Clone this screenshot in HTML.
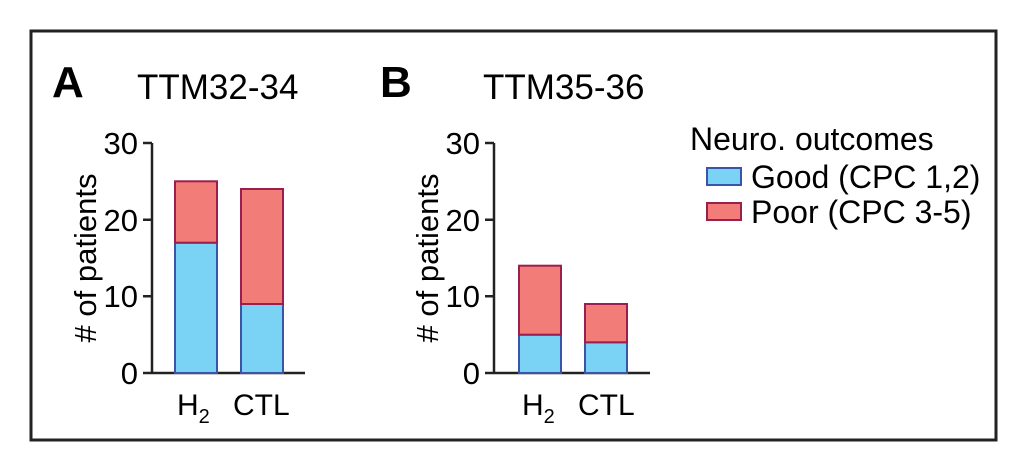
<!DOCTYPE html>
<html><head><style>body{margin:0;background:#fff}</style></head><body>
<svg width="1009" height="463" xmlns="http://www.w3.org/2000/svg" font-family="Liberation Sans, Arial, sans-serif">
<rect x="31" y="31" width="965" height="409" fill="none" stroke="#222" stroke-width="3"/>
<text x="52" y="97" font-size="44" font-weight="bold">A</text>
<text x="137" y="99" font-size="35">TTM32-34</text>
<text x="380" y="97" font-size="44" font-weight="bold">B</text>
<text x="483" y="99" font-size="35">TTM35-36</text>
<g stroke="#222" stroke-width="2.5" fill="none">
<path d="M152,143 V373 H305 M143,143 H152 M143,219.7 H152 M143,296.3 H152 M143,373 H152"/>
<path d="M494,143 V373 H650 M485,143 H494 M485,219.7 H494 M485,296.3 H494 M485,373 H494"/>
</g>
<g font-size="31" text-anchor="end">
<text x="138" y="154">30</text><text x="138" y="231">20</text><text x="138" y="307">10</text><text x="138" y="384">0</text>
<text x="480" y="154">30</text><text x="480" y="231">20</text><text x="480" y="307">10</text><text x="480" y="384">0</text>
</g>
<text transform="translate(96,258) rotate(-90)" font-size="31" text-anchor="middle"># of patients</text>
<text transform="translate(438,258) rotate(-90)" font-size="31" text-anchor="middle"># of patients</text>
<g stroke-width="2">
<rect x="175" y="242.7" width="42" height="130.3" fill="#7ad2f5" stroke="#3a55a8"/>
<rect x="175" y="181.3" width="42" height="61.4" fill="#f27d78" stroke="#9a1f4e"/>
<rect x="241" y="304" width="42" height="69" fill="#7ad2f5" stroke="#3a55a8"/>
<rect x="241" y="189" width="42" height="115" fill="#f27d78" stroke="#9a1f4e"/>
<rect x="519" y="334.7" width="42" height="38.3" fill="#7ad2f5" stroke="#3a55a8"/>
<rect x="519" y="265.7" width="42" height="69" fill="#f27d78" stroke="#9a1f4e"/>
<rect x="585" y="342.3" width="42" height="30.7" fill="#7ad2f5" stroke="#3a55a8"/>
<rect x="585" y="304" width="42" height="38.3" fill="#f27d78" stroke="#9a1f4e"/>
</g>
<g font-size="30">
<text x="177" y="415">H<tspan font-size="20" dy="8">2</tspan></text>
<text x="233" y="415">CTL</text>
<text x="522" y="415">H<tspan font-size="20" dy="8">2</tspan></text>
<text x="578" y="415">CTL</text>
</g>
<g font-size="32">
<text x="690" y="150">Neuro. outcomes</text>
<text x="751" y="188">Good (CPC 1,2)</text>
<text x="751" y="223">Poor  (CPC 3-5)</text>
</g>
<rect x="707" y="168" width="34" height="17" fill="#7ad2f5" stroke="#3a55a8" stroke-width="2"/>
<rect x="707" y="203" width="34" height="17" fill="#f27d78" stroke="#9a1f4e" stroke-width="2"/>
</svg>
</body></html>
